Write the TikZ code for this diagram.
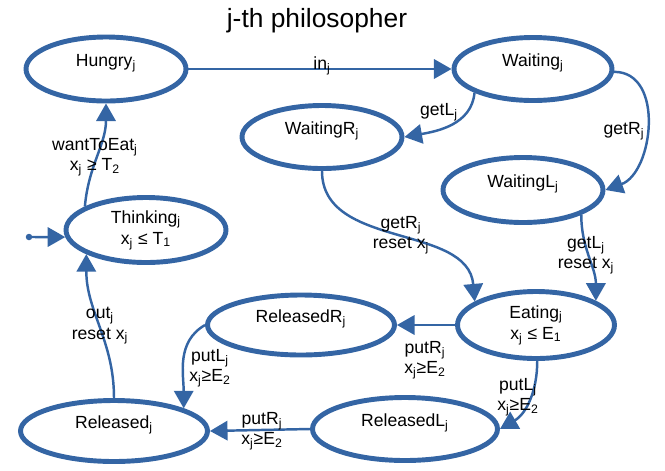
\documentclass[tikz,border=0pt]{standalone}
\usepackage{fontspec}
\setmainfont{Liberation Sans}
\usetikzlibrary{arrows.meta,shapes.geometric}
\definecolor{stateblue}{HTML}{3465A4}
\newcommand{\sbs}[1]{\textsubscript{#1}}

\begin{document}
\begin{tikzpicture}[
    state/.style={ellipse, draw=stateblue, line width=2.8pt, inner sep=0pt,
      minimum width=3.2cm, minimum height=1.28cm, align=center,
      font=\fontsize{10}{12}\selectfont},
    lift/.style={text height=8pt, text depth=11pt},
    trans/.style={draw=stateblue, line width=1.4pt, -{Triangle[length=10pt, width=11pt]}},
    lbl/.style={align=center, inner sep=0pt, font=\fontsize{10}{11.5}\selectfont}]
  \useasboundingbox (0,0) rectangle (13.3,-9.4);
  \node [anchor=base, font=\fontsize{15}{18}\selectfont] (title) at (6.34,-0.54) {j-th philosopher};

  \node [state, lift] (hungry) at (2.12,-1.38) {Hungry\sbs{j}};
  \node [state, lift, minimum width=3.16cm, minimum height=1.26cm] (waiting) at (10.66,-1.38) {Waiting\sbs{j}};
  \node [state, lift, minimum height=1.26cm] (waitR) at (6.44,-2.74) {WaitingR\sbs{j}};
  \node [state, lift, minimum height=1.3cm] (waitL) at (10.46,-3.8) {WaitingL\sbs{j}};
  \node [state, minimum height=1.3cm] (thinking) at (2.92,-4.6) {Thinking\sbs{j}\\x\sbs{j} ≤ T\sbs{1}};
  \node [state, minimum width=3.14cm, minimum height=1.34cm] (eating) at (10.72,-6.5) {Eating\sbs{j}\\x\sbs{j} ≤ E\sbs{1}};
  \node [state, lift, minimum width=3.74cm, minimum height=1.2cm] (relR) at (6.02,-6.5) {ReleasedR\sbs{j}};
  \node [state, lift, minimum width=3.74cm, minimum height=1.22cm] (released) at (2.28,-8.62) {Released\sbs{j}};
  \node [state, lift, minimum width=3.7cm, minimum height=1.26cm] (relL) at (8.1,-8.58) {ReleasedL\sbs{j}};

  \coordinate (init) at (0.58,-4.74);
  \fill [stateblue] (init) circle (0.065);
  \draw [trans] (init) -- (thinking.185);

  \draw [trans] (hungry.east) -- (waiting.west);
  \draw [trans] (waiting.202) to[out=-95, in=10] (waitR.east);
  \draw [trans] (waiting.-2) to[out=0, in=20, looseness=1.1] (waitL.east);
  \draw [trans] (waitR.south) to[out=-90, in=95] (eating.159);
  \draw [trans] (waitL.-23) to[out=-90, in=90] (eating.22);
  \draw [trans] (eating.west) -- (relR.east);
  \draw [trans] (eating.-88) to[out=-90, in=30] (relL.east);
  \draw [trans] (relR.west) to[out=210, in=90] (released.18);
  \draw [trans] (relL.west) -- (released.east);
  \draw [trans] (released.north) to[out=90, in=-90] (thinking.202);
  \draw [trans] (thinking.159) to[out=85, in=-90] (hungry.south);

  \node [lbl] (lin) at (6.44,-1.32) {in\sbs{j}};
  \node [lbl] (lgetL) at (8.78,-2.24) {getL\sbs{j}};
  \node [lbl] (lgetR) at (12.48,-2.62) {getR\sbs{j}};
  \node [lbl] (lgetRr) at (8.02,-4.7) {getR\sbs{j}\\reset x\sbs{j}};
  \node [lbl] (lgetLr) at (11.72,-5.1) {getL\sbs{j}\\reset x\sbs{j}};
  \node [lbl] (lputR) at (8.5,-7.2) {putR\sbs{j}\\x\sbs{j}≥E\sbs{2}};
  \node [lbl] (lputL) at (10.36,-7.94) {putL\sbs{j}\\x\sbs{j}≥E\sbs{2}};
  \node [lbl] (lputLr) at (4.2,-7.36) {putL\sbs{j}\\x\sbs{j}≥E\sbs{2}};
  \node [lbl] (lputRr) at (5.24,-8.62) {putR\sbs{j}\\x\sbs{j}≥E\sbs{2}};
  \node [lbl] (lout) at (2.0,-6.52) {out\sbs{j}\\reset x\sbs{j}};
  \node [lbl] (lwant) at (1.9,-3.14) {wantToEat\sbs{j}\\x\sbs{j} ≥ T\sbs{2}};
\end{tikzpicture}
\end{document}
